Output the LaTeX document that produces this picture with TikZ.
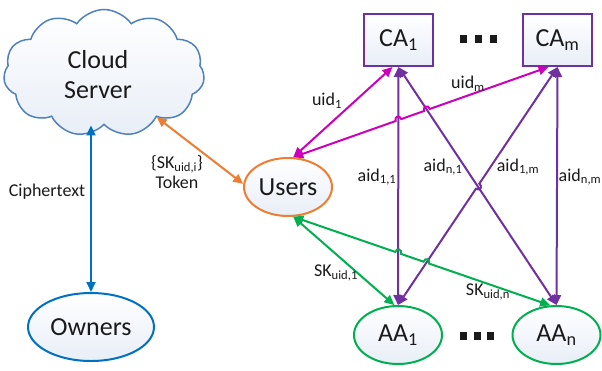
\documentclass[tikz,border=0pt]{standalone}
\usepackage{fontspec}
\setmainfont{Carlito}
\usetikzlibrary{arrows.meta,shapes.geometric,shapes.symbols,intersections,calc}

\definecolor{cBlue}{HTML}{0070C0}
\definecolor{cCloud}{HTML}{4F81BD}
\definecolor{cOrange}{HTML}{ED7D31}
\definecolor{cMag}{HTML}{CC00BB}
\definecolor{cPurple}{HTML}{7030A0}
\definecolor{cGreen}{HTML}{00B050}
\definecolor{cFill}{HTML}{E8EEF7}
\definecolor{txt}{HTML}{1A1A1A}

\tikzset{
  big/.style={font=\fontsize{26}{30}\selectfont, text=txt},
  lbl/.style={font=\fontsize{18}{20}\selectfont, text=txt, inner sep=0pt, align=center},
  ent/.style={big, draw, line width=2pt, top color=white, bottom color=cFill, inner sep=0pt},
  cabox/.style={ent, rectangle, draw=cPurple, minimum width=69, minimum height=52},
  oval/.style={ent, ellipse, minimum width=88, minimum height=58},
  link/.style={line width=2pt, {Triangle[length=10pt,width=9pt]}-{Triangle[length=10pt,width=9pt]}},
  dotsq/.style={fill=txt, minimum width=7, minimum height=8, inner sep=0pt}
}

% hop over a crossing: #1 start, #2 crossing point, #3 end
\newcommand{\hopover}[3]{%
  -- ($(#2)!3pt!(#1)$)
  .. controls ($($(#2)!3pt!(#1)$)!0.8!90:($(#2)!3pt!(#3)$)$)
          and ($($(#2)!3pt!(#3)$)!0.8!-90:($(#2)!3pt!(#1)$)$) ..
  ($(#2)!3pt!(#3)$)}

\begin{document}
\begin{tikzpicture}[x=1pt,y=-1pt]
\useasboundingbox (0,0) rectangle (602,370);

% entities
\node[cloud, cloud puffs=11, cloud puff arc=110, aspect=1.4, draw=cCloud,
      line width=1.5pt, top color=white, bottom color=cFill,
      inner sep=0pt, minimum width=201, minimum height=127] (Cl) at (104,73) {};
\node[big, align=center, inner sep=0pt] (ClT) at (98,75) {Cloud\\Server};
\node[oval, draw=cBlue, minimum width=126, minimum height=68] (O) at (91,327) {Owners};
\node[oval, draw=cOrange] (U) at (288,187) {Users};
\node[cabox] (CA1) at (398.5,40) {CA\textsubscript{1}};
\node[cabox] (CAm) at (557.5,40) {CA\textsubscript{m}};
\node[oval, draw=cGreen] (AA1) at (398,335) {AA\textsubscript{1}};
\node[oval, draw=cGreen] (AAn) at (556.5,335) {AA\textsubscript{n}};

% ellipsis marks
\foreach \x in {463.5,478.5,493.5} \path (\x,39) node[dotsq] {};
\foreach \x in {463,477,490.5} \path (\x,335.5) node[dotsq] {};

% end points that sit beside the centre anchors
\coordinate (mEnd1) at ([xshift=-6pt]CA1.south);
\coordinate (mEndm) at ([xshift=-9pt]CAm.south);

% crossing points
\path[name path=pv1] (CA1.south) -- (AA1.north);
\path[name path=pd1] (CA1.south) -- (AAn.north);
\path[name path=pd2] (CAm.south) -- (AA1.north);
\path[name path=mg2] (U.80) -- (mEndm);
\path[name path=gr2] (U.-80) -- (AAn.102);
\path[name intersections={of=mg2 and pv1,by=h1}];
\path[name intersections={of=mg2 and pd1,by=h2}];
\path[name intersections={of=gr2 and pv1,by=h3}];
\path[name intersections={of=gr2 and pd2,by=h4}];
\path[name intersections={of=pd1 and pd2,by=h5}];

% cloud <-> owners, cloud <-> users
\draw[link, draw=cBlue] (O.north) -- (O.north |- Cl.south);
\draw[link, draw=cOrange] (Cl.-40) -- (U.176);

% purple links between CAs and AAs
\draw[link, draw=cPurple] (CA1.south) -- (AA1.north);
\draw[link, draw=cPurple] (CAm.south) -- (AAn.north);
\draw[link, draw=cPurple] (CA1.south) -- (AAn.north);
\draw[link, draw=cPurple] (CAm.south) \hopover{CAm.south}{h5}{AA1.north} -- (AA1.north);

% magenta links users <-> CAs
\draw[link, draw=cMag] (U.80) -- (mEnd1);
\draw[link, draw=cMag] (U.80) \hopover{U.80}{h1}{mEndm} \hopover{U.80}{h2}{mEndm} -- (mEndm);

% green links users <-> AAs
\draw[link, draw=cGreen] (U.-80) -- (AA1.97);
\draw[link, draw=cGreen] (U.-80) \hopover{U.-80}{h3}{AAn.102} \hopover{U.-80}{h4}{AAn.102} -- (AAn.102);

% labels
\node[lbl] (lCt) at (47,192) {Ciphertext};
\node[lbl] (lTk) at (177,172) {\{SK\textsubscript{uid,i}\}\\Token};
\node[lbl] (lu1) at (327,101) {uid\textsubscript{1}};
\node[lbl] (lum) at (468,84) {uid\textsubscript{m}};
\node[lbl] (la11) at (377,177) {aid\textsubscript{1,1}};
\node[lbl] (lan1) at (443,167) {aid\textsubscript{n,1}};
\node[lbl] (la1m) at (518,167) {aid\textsubscript{1,m}};
\node[lbl] (lanm) at (580,177) {aid\textsubscript{n,m}};
\node[lbl] (ls1) at (336,273) {SK\textsubscript{uid,1}};
\node[lbl] (lsn) at (488,292) {SK\textsubscript{uid,n}};
\end{tikzpicture}
\end{document}
